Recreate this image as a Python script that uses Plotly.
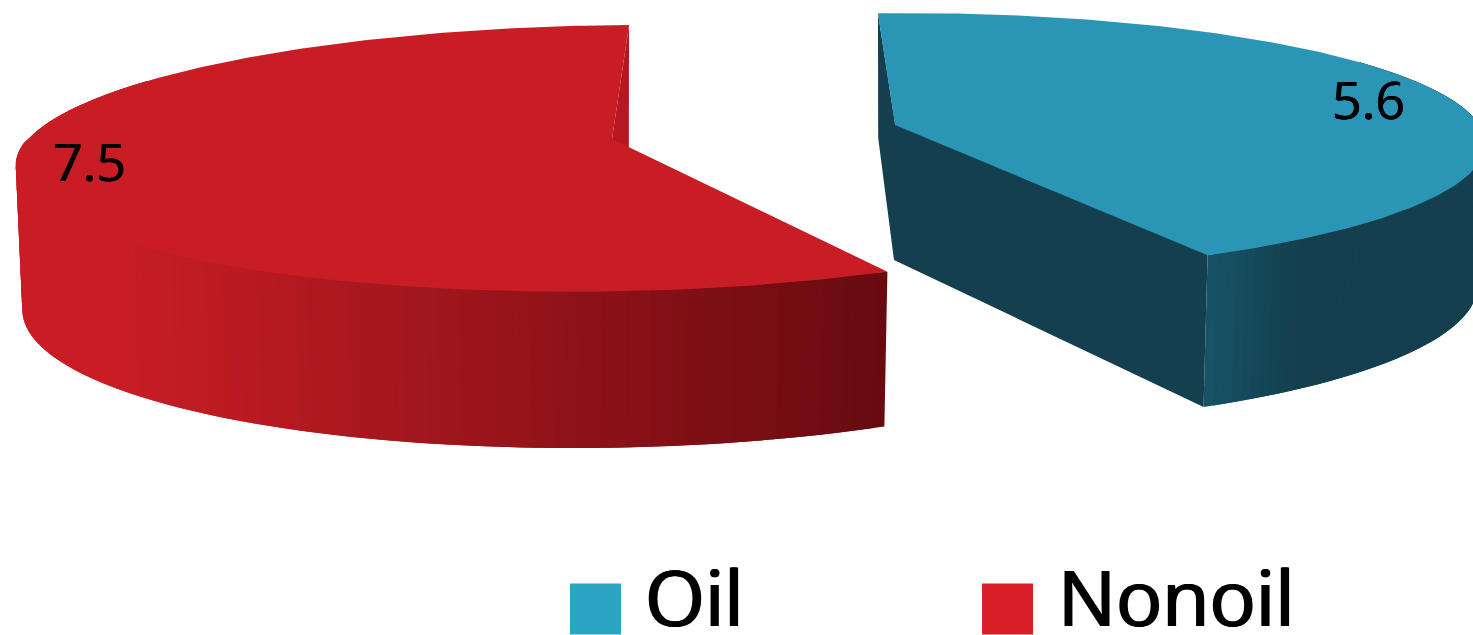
import numpy as np
import plotly.graph_objects as go

# Data
categories = ["Oil", "Nonoil"]
values = [5.6, 7.5]
value_labels = ["5.6", "7.5"]
legend_colors = ["#2BA3C2", "#DA1F28"]
top_colors = ["#2A95B4", "#C91D25"]

W, H = 1473, 635
total = sum(values)
split = 360 * values[0] / total  # oil occupies 0..split clockwise from 12 o'clock

# Projection style of each exploded slice (disc -> page)
proj = {
    "Oil": dict(c=(895, 125), a=575, b=-19.5, d=-5.0, e=-128, g=-0.01, h=0.145,
                base=139, taper=16, core=135, shrink=0.013),
    "Nonoil": dict(c=(612, 139), a=585, b=19.5, d=-3.6, e=-130.5, g=0.003, h=0.145,
                   base=140, taper=18, core=135, shrink=0.011),
}
UP = np.array([0.0, -1.5])


def top_pt(p, th):
    th = np.radians(th)
    u, v = np.sin(th), np.cos(th)
    den = 1 + p["g"] * u + p["h"] * v
    return np.array([p["c"][0] + (p["a"] * u + p["b"] * v) / den,
                     p["c"][1] + (p["d"] * u + p["e"] * v) / den])


def bot_pt(p, th):
    pt = top_pt(p, th)
    off = pt - np.array(p["c"])
    v = np.cos(np.radians(th))
    return np.array([p["c"][0] + off[0] * (1 - p["shrink"]),
                     p["c"][1] + off[1] * (1 - p["shrink"]) + p["base"] - p["taper"] * v])


def lerp_color(c1, c2, t):
    t = min(max(t, 0), 1)
    return "rgb(%d,%d,%d)" % tuple(round(c1[i] + (c2[i] - c1[i]) * t) for i in range(3))


def poly(fig, pts, color):
    pts = list(pts) + [pts[0]]
    fig.add_trace(go.Scatter(x=[q[0] for q in pts], y=[q[1] for q in pts], mode="lines",
                             fill="toself", fillcolor=color,
                             line=dict(color=color, width=0),
                             hoverinfo="skip", showlegend=False))


fig = go.Figure()


def draw_slice(name, th0, th1, wall, side_color, cut_color, cuts):
    p = proj[name]
    c = np.array(p["c"], float)
    cb = c + np.array([-1.0, p["core"]])
    ths = np.linspace(th0, th1, int(round(th1 - th0)) + 1)
    # overlapping strips of the visible outer wall; each overpaints the seam of the last
    w = ths[(ths >= wall[0]) & (ths <= wall[1])]
    if name == "Oil":
        w = w[::-1]  # walk from the front corner outward
    for i in range(len(w) - 1):
        a0, a1 = w[i], w[min(i + 2, len(w) - 1)]
        t0, t1 = top_pt(p, a0), top_pt(p, a1)
        s0 = t0 if i == 0 else t0 + UP * (np.cos(np.radians(a0)) < 0)
        s1 = t1 + UP * (np.cos(np.radians(a1)) < 0)
        poly(fig, [s0, s1, bot_pt(p, a1), bot_pt(p, a0)], side_color(t0[0]))
    # cut faces are one polygon, so no seam runs between them
    if len(cuts) > 1:
        outline = [top_pt(p, cuts[0]), bot_pt(p, cuts[0]), cb,
                   bot_pt(p, cuts[1]), top_pt(p, cuts[1]) + UP, c + UP]
    else:
        outline = [top_pt(p, cuts[0]), bot_pt(p, cuts[0]), cb, c]
    poly(fig, outline, cut_color)
    rim = [top_pt(p, a) for a in ths]
    poly(fig, [c] + rim, top_colors[categories.index(name)])


def red_side(x):
    return lerp_color((201, 29, 37), (104, 11, 16), (x - 120) / (886 - 120))


def oil_side(x):
    return lerp_color((21, 84, 102), (20, 63, 78), (x - 1205) / 90)


draw_slice("Nonoil", split, 360, (split, 300), red_side, "#B71820", [360])
draw_slice("Oil", 0, split, (60, split), oil_side, "#133F4E", [0, split])

# Value labels
label_shadow = "0.4px 0 0 #000, -0.4px 0 0 #000"
fig.add_annotation(x=1368, y=98, text=value_labels[0], showarrow=False,
                   font=dict(family="Open Sans", size=52, color="#000000", shadow=label_shadow),
                   xanchor="center", yanchor="middle")
fig.add_annotation(x=89.5, y=160, text=value_labels[1], showarrow=False,
                   font=dict(family="Open Sans", size=52, color="#000000", shadow=label_shadow),
                   xanchor="center", yanchor="middle")

# Legend
legend_shadow = "1px 0 0 #000, -1px 0 0 #000"
for name, col, sx, tx, xs in zip(categories, legend_colors, [595.5, 1007.5], [648, 1062], [-5, -6]):
    fig.add_trace(go.Scatter(x=[sx], y=[609], mode="markers",
                             marker=dict(symbol="square", size=51, color=col, line=dict(width=0)),
                             hoverinfo="skip", showlegend=False))
    fig.add_annotation(x=tx, y=596, text=name, showarrow=False,
                       font=dict(family="Open Sans", size=77, color="#000000", shadow=legend_shadow),
                       xanchor="left", yanchor="middle", xshift=xs)

fig.update_layout(width=W, height=H, margin=dict(l=0, r=0, t=0, b=0),
                  paper_bgcolor="white", plot_bgcolor="white",
                  xaxis=dict(range=[0, W], visible=False, fixedrange=True),
                  yaxis=dict(range=[H, 0], visible=False, fixedrange=True),
                  showlegend=False)
fig.write_html("out.html", config={"displayModeBar": False},
               post_script="document.body.style.margin='0';")
